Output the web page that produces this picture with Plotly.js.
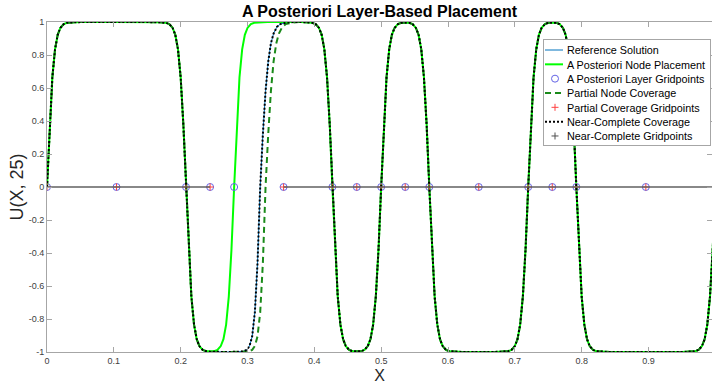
<!DOCTYPE html>
<html>
<head>
<meta charset="utf-8">
<script src="https://cdn.plot.ly/plotly-3.0.1.min.js"></script>
<style>html,body{margin:0;padding:0;background:#fff;}#chart{width:712px;height:383px;}</style>
</head>
<body>
<div id="chart"></div>
<script>
// ---- data ----
// common left part: boundary layer at x=0 and first interface (down) near x=0.208
const xLeft = [0, 0.004, 0.008, 0.012, 0.016, 0.020, 0.025, 0.030, 0.040, 0.050, 0.100, 0.150, 0.158, 0.168, 0.178, 0.183, 0.188, 0.192, 0.196, 0.200, 0.204, 0.208, 0.212, 0.216, 0.220, 0.224, 0.228, 0.233, 0.238];
const uLeft = [0, 0.38, 0.664, 0.834, 0.922, 0.964, 0.987, 0.995, 0.999, 1.0, 1.0, 1.0, 0.9998, 0.999, 0.995, 0.987, 0.964, 0.922, 0.834, 0.664, 0.38, 0, -0.38, -0.664, -0.834, -0.922, -0.964, -0.987, -0.995];

// A Posteriori node placement: rising interface near x=0.280
const xPost = [0.244, 0.250, 0.255, 0.260, 0.264, 0.268, 0.272, 0.276, 0.280, 0.284, 0.288, 0.292, 0.296, 0.300, 0.305, 0.310, 0.320, 0.330];
const uPost = [-0.997, -0.995, -0.987, -0.964, -0.922, -0.834, -0.664, -0.38, 0, 0.38, 0.664, 0.834, 0.922, 0.964, 0.987, 0.995, 0.999, 1.0];

// Near-complete coverage (and reference): rising interface near x=0.319
const xNear = [0.244, 0.270, 0.285, 0.293, 0.299, 0.303, 0.307, 0.311, 0.315, 0.319, 0.323, 0.327, 0.331, 0.335, 0.339, 0.344, 0.349, 0.359, 0.369];
const uNear = [-0.998, -1.0, -0.999, -0.997, -0.987, -0.964, -0.905, -0.76, -0.46, 0, 0.32, 0.58, 0.76, 0.87, 0.93, 0.97, 0.987, 0.997, 1.0];

// Partial node coverage: rising interface near x=0.327
const xPart = [0.244, 0.270, 0.290, 0.301, 0.307, 0.311, 0.315, 0.319, 0.323, 0.327, 0.331, 0.335, 0.339, 0.343, 0.347, 0.352, 0.357, 0.367, 0.377];
const uPart = [-0.998, -1.0, -1.0, -0.997, -0.987, -0.964, -0.905, -0.76, -0.46, 0, 0.32, 0.58, 0.76, 0.87, 0.93, 0.97, 0.987, 0.997, 1.0];

// common right part: interfaces near 0.427, 0.500, 0.572, 0.720, 0.792 and boundary at x=1
const xRight = [0.380, 0.387, 0.397, 0.402, 0.407, 0.411, 0.415, 0.419, 0.423, 0.427, 0.431, 0.435, 0.439, 0.443, 0.447, 0.452, 0.457,
  0.4635,
  0.470, 0.475, 0.480, 0.484, 0.488, 0.492, 0.496, 0.500, 0.504, 0.508, 0.512, 0.516, 0.520, 0.525, 0.530,
  0.536,
  0.542, 0.547, 0.552, 0.556, 0.560, 0.564, 0.568, 0.572, 0.576, 0.580, 0.584, 0.588, 0.592, 0.597, 0.602, 0.612, 0.622,
  0.670, 0.680,
  0.690, 0.695, 0.700, 0.704, 0.708, 0.712, 0.716, 0.720, 0.724, 0.728, 0.732, 0.736, 0.740, 0.745, 0.750,
  0.756,
  0.762, 0.767, 0.772, 0.776, 0.780, 0.784, 0.788, 0.792, 0.796, 0.800, 0.804, 0.808, 0.812, 0.817, 0.822, 0.832, 0.842,
  0.950, 0.960, 0.970, 0.975, 0.980, 0.984, 0.988, 0.992, 0.996, 1.000];
const uRight = [1.0, 0.999, 0.995, 0.987, 0.964, 0.922, 0.834, 0.664, 0.38, 0, -0.38, -0.664, -0.834, -0.922, -0.964, -0.987, -0.995,
  -0.997,
  -0.995, -0.987, -0.964, -0.922, -0.834, -0.664, -0.38, 0, 0.38, 0.664, 0.834, 0.922, 0.964, 0.987, 0.995,
  0.997,
  0.995, 0.987, 0.964, 0.922, 0.834, 0.664, 0.38, 0, -0.38, -0.664, -0.834, -0.922, -0.964, -0.987, -0.995, -0.999, -1.0,
  -1.0, -0.999,
  -0.995, -0.987, -0.964, -0.922, -0.834, -0.664, -0.38, 0, 0.38, 0.664, 0.834, 0.922, 0.964, 0.987, 0.995,
  0.997,
  0.995, 0.987, 0.964, 0.922, 0.834, 0.664, 0.38, 0, -0.38, -0.664, -0.834, -0.922, -0.964, -0.987, -0.995, -0.999, -1.0,
  -1.0, -0.999, -0.995, -0.987, -0.964, -0.922, -0.834, -0.664, -0.38, 0];

// gridpoints (all on U = 0)
const xLayerGrid = [0, 0.104, 0.208, 0.244, 0.280, 0.354, 0.427, 0.4635, 0.500, 0.536, 0.572, 0.646, 0.720, 0.756, 0.792, 0.896];
const uLayerGrid = [0, 0, 0, 0, 0, 0, 0, 0, 0, 0, 0, 0, 0, 0, 0, 0];
const xPartialGrid = [0, 0.104, 0.208, 0.244, 0.354, 0.427, 0.4635, 0.500, 0.536, 0.572, 0.646, 0.720, 0.756, 0.792, 0.896];
const uPartialGrid = [0, 0, 0, 0, 0, 0, 0, 0, 0, 0, 0, 0, 0, 0, 0];
// near-complete gridpoints are so dense they read as a band: covered intervals
const xNearGridBand = [0, 0.244, null, 0.354, 1.0];
const uNearGridBand = [0, 0, null, 0, 0];

const xTickVals = [0, 0.1, 0.2, 0.3, 0.4, 0.5, 0.6, 0.7, 0.8, 0.9];
const xTickText = ['0', '0.1', '0.2', '0.3', '0.4', '0.5', '0.6', '0.7', '0.8', '0.9'];
const yTickVals = [-1, -0.8, -0.6, -0.4, -0.2, 0, 0.2, 0.4, 0.6, 0.8, 1];
const yTickText = ['-1', '-0.8', '-0.6', '-0.4', '-0.2', '0', '0.2', '0.4', '0.6', '0.8', '1'];

// ---- build curves ----
const xRef = xLeft.concat(xNear, xRight);
const uRef = uLeft.concat(uNear, uRight);
const xPostCurve = xLeft.concat(xPost, xRight);
const uPostCurve = uLeft.concat(uPost, uRight);
const xPartCurve = xLeft.concat(xPart, xRight);
const uPartCurve = uLeft.concat(uPart, uRight);
const xNearCurve = xLeft.concat(xNear, xRight);
const uNearCurve = uLeft.concat(uNear, uRight);

const FONT = 'Liberation Sans, Arial, Helvetica, sans-serif';

const traces = [
  {x: xRef, y: uRef, mode: 'lines', name: 'Reference Solution',
   line: {color: '#0072BD', width: 1}},
  {x: xPostCurve, y: uPostCurve, mode: 'lines', name: 'A Posteriori Node Placement',
   line: {color: '#00FF00', width: 2}},
  {x: xLayerGrid, y: uLayerGrid, mode: 'markers', name: 'A Posteriori Layer Gridpoints',
   marker: {symbol: 'circle-open', size: 7, color: '#6464e6', line: {width: 1, color: '#6464e6'}}},
  {x: xPartCurve, y: uPartCurve, mode: 'lines', name: 'Partial Node Coverage',
   line: {color: '#1a8a1a', width: 2, dash: '6px,4px'}},
  {x: xPartialGrid, y: uPartialGrid, mode: 'markers', name: 'Partial Coverage Gridpoints',
   marker: {symbol: 'cross-thin-open', size: 5, color: '#ff4040', line: {width: 1, color: '#ff4040'}}},
  {x: xNearCurve, y: uNearCurve, mode: 'lines', name: 'Near-Complete Coverage',
   line: {color: '#000000', width: 2, dash: '2px,2px'}},
  {x: [null], y: [null], mode: 'markers', name: 'Near-Complete Gridpoints',
   marker: {symbol: 'cross-thin-open', size: 5, color: '#505050', line: {width: 1, color: '#505050'}}},
  {x: xNearGridBand, y: uNearGridBand, mode: 'lines', name: 'Near-Complete Gridpoints', showlegend: false,
   line: {color: '#606060', width: 1.5}, hoverinfo: 'skip'}
];

const axisCommon = {
  showgrid: false, zeroline: false, showline: true, mirror: 'ticks',
  linecolor: '#a6a6a6', linewidth: 1,
  ticks: 'inside', ticklen: 5, tickwidth: 1, tickcolor: '#a6a6a6',
  tickfont: {family: FONT, size: 9, color: '#404040'}
};

const layout = {
  width: 712, height: 383,
  margin: {l: 47, r: 0, t: 22, b: 31, pad: 0},
  paper_bgcolor: '#ffffff', plot_bgcolor: '#ffffff',
  showlegend: true,
  title: {text: '<b>A Posteriori Layer-Based Placement</b>',
          font: {family: FONT, size: 16, color: '#000'},
          x: 0.5, xref: 'paper', xanchor: 'center', y: 0.97, yref: 'container', yanchor: 'middle'},
  xaxis: Object.assign({}, axisCommon, {
    range: [0, 0.995], tickmode: 'array', tickvals: xTickVals, ticktext: xTickText,
    title: {text: 'X', font: {family: FONT, size: 16, color: '#262626'}, standoff: 13}
  }),
  yaxis: Object.assign({}, axisCommon, {
    range: [-1, 1], tickmode: 'array', tickvals: yTickVals, ticktext: yTickText,
    title: {text: 'U(X, 25)', font: {family: FONT, size: 18, color: '#262626'}, standoff: 0}
  }),
  legend: {
    x: 1, y: 1, xanchor: 'right', yanchor: 'top',
    bgcolor: '#ffffff', bordercolor: '#a6a6a6', borderwidth: 1,
    font: {family: FONT, size: 10.8, color: '#000'},
    itemwidth: 30, tracegroupgap: 0
  }
};

const gd = document.getElementById('chart');
Plotly.newPlot(gd, traces, layout, {displayModeBar: false, staticPlot: true}).then(function () {
  // x title sits a little lower in the reference
  const xt = gd.querySelector('text.xtitle');
  if (xt) xt.setAttribute('y', parseFloat(xt.getAttribute('y')) + 1);
  // compact MATLAB-like legend layout (short symbols, tight rows)
  const leg = gd.querySelector('g.legend');
  if (!leg) return;
  const LEFT = 543, TOP = 39, W = 168, H = 107, ROW0 = 11, STEP = 14.33;
  leg.setAttribute('transform', 'translate(' + LEFT + ',' + TOP + ')');
  const bg = leg.querySelector('rect.bg');
  if (bg) { bg.setAttribute('x', 0.5); bg.setAttribute('y', 0.5); bg.setAttribute('width', W - 1); bg.setAttribute('height', H - 1); }
  const sb = leg.querySelector('g.scrollbox');
  if (sb) { sb.setAttribute('transform', 'translate(0,0)'); sb.removeAttribute('clip-path'); }
  const groups = leg.querySelector('g.groups');
  if (groups) groups.removeAttribute('transform');
  leg.querySelectorAll('g.groups > g').forEach(function (g) { g.removeAttribute('transform'); });
  leg.querySelectorAll('g.traces').forEach(function (it, i) {
    it.setAttribute('transform', 'translate(0,' + (ROW0 + STEP * i) + ')');
    const t = it.querySelector('text.legendtext');
    if (t) t.setAttribute('x', 24);
    it.querySelectorAll('g.legendlines path').forEach(function (p) { p.setAttribute('d', 'M2,0h18'); });
    it.querySelectorAll('g.legendpoints path').forEach(function (p) { p.setAttribute('transform', 'translate(12,0)'); });
  });
});
</script>
</body>
</html>
